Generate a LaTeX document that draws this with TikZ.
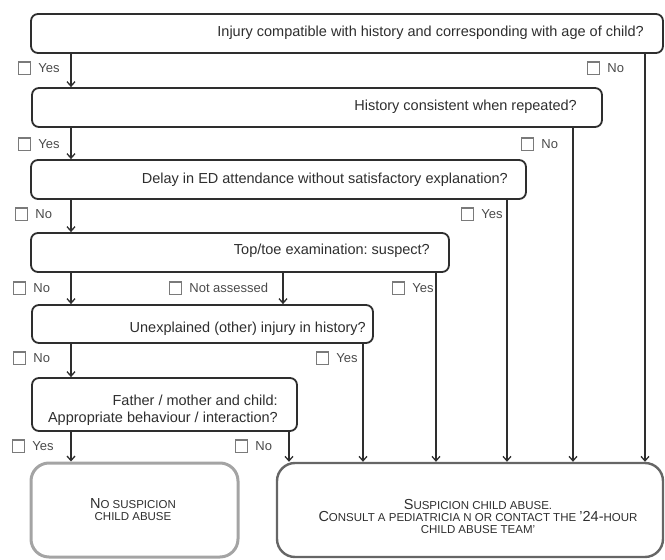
\documentclass[tikz,border=0pt]{standalone}
\usepackage{fontspec}
\setmainfont{Liberation Sans}
\usetikzlibrary{arrows.meta,fit}
\definecolor{ink}{HTML}{2E2E2E}
\definecolor{lblgray}{HTML}{4A4A4A}
\definecolor{cbgray}{HTML}{7A7A7A}
\definecolor{softgray}{HTML}{A4A4A4}
\definecolor{midgray}{HTML}{666666}
\frenchspacing
\tikzset{>={Straight Barb[length=4.5pt,width=8pt]}}
\tikzset{
  qbox/.style={draw=ink, line width=1.8pt, rounded corners=7pt, inner sep=0pt},
  qtext/.style={text=ink, font=\fontsize{14.5}{17}\selectfont, anchor=east, inner sep=0pt, align=right},
  endbox/.style={rounded corners=18pt, inner sep=0pt},
  endtext/.style={text=ink, align=center, inner sep=0pt},
  opt/.style={text=lblgray, font=\fontsize{13}{15}\selectfont, anchor=west, inner sep=0pt},
  flow/.style={->, draw=ink, line width=1.3pt}
}
\newcommand{\cb}{\raisebox{-1.5pt}{\fboxsep=0pt\fboxrule=1.1pt\fcolorbox{cbgray}{white}{\rule{0pt}{11pt}\rule{11pt}{0pt}}}\hspace{7pt}}
\newcommand{\sct}[2]{{\fontsize{14.5}{17}\selectfont #1}{\fontsize{11.5}{17}\selectfont #2}}

\begin{document}
\begin{tikzpicture}[x=1pt, y=-1pt]
    \useasboundingbox (0,0) rectangle (665,560);
    % questions
    \node[qbox, fit={(31,14) (663,53)}] (q1) {};
    \node[qtext] (q1t) at (644,33) {Injury compatible with history and corresponding with age of child?};
    \node[qbox, fit={(32,88) (602,127)}] (q2) {};
    \node[qtext] (q2t) at (577,107) {History consistent when repeated?};
    \node[qbox, fit={(31,160) (526,199)}] (q3) {};
    \node[qtext] (q3t) at (508,180) {Delay in ED attendance without satisfactory explanation?};
    \node[qbox, fit={(31,233) (449,272)}] (q4) {};
    \node[qtext] (q4t) at (430,251) {Top/toe examination: suspect?};
    \node[qbox, fit={(32,305) (373,343)}] (q5) {};
    \node[qtext] (q5t) at (366,329) {Unexplained (other) injury in history?};
    \node[qbox, fit={(32,378) (297,431)}] (q6) {};
    \node[qtext] (q6t) at (278,410.5) {Father / mother and child:\\Appropriate behaviour / interaction?};
    % outcomes
    \node[endbox, draw=softgray, line width=3pt, fit={(31,463) (238,557)}] (nosus) {};
    \node[endtext] (nosust) at (133,509.5) {\sct{N}{O SUSPICION}\\\sct{}{CHILD ABUSE}};
    \node[endbox, draw=midgray, line width=2.4pt, fit={(277,463) (663,557)}] (sus) {};
    \node[endtext] (sust) at (478,516.5) {\sct{S}{USPICION CHILD ABUSE.}\\
        \sct{C}{ONSULT A PEDIATRICIA N OR CONTACT THE }\sct{'24-}{HOUR}\\
        \sct{}{CHILD ABUSE TEAM'}};
    % answers
    \node[opt] (a1y) at (18,68) {\cb Yes};
    \node[opt] (a1n) at (587,68) {\cb No};
    \node[opt] (a2y) at (18,144) {\cb Yes};
    \node[opt] (a2n) at (521,144) {\cb No};
    \node[opt] (a3n) at (15,214) {\cb No};
    \node[opt] (a3y) at (461,214) {\cb Yes};
    \node[opt] (a4n) at (13,288) {\cb No};
    \node[opt] (a4a) at (169,288) {\cb Not assessed};
    \node[opt] (a4y) at (392,288) {\cb Yes};
    \node[opt] (a5n) at (13,358) {\cb No};
    \node[opt] (a5y) at (316,358) {\cb Yes};
    \node[opt] (a6y) at (12,446) {\cb Yes};
    \node[opt] (a6n) at (235,446) {\cb No};
    % connectors
    \coordinate (sp) at (71,0);
    \coordinate (na) at (283,0);
    \coordinate (n1) at (645,0);
    \coordinate (n2) at (573,0);
    \coordinate (y3) at (507,0);
    \coordinate (y4) at (436,0);
    \coordinate (y5) at (363,0);
    \coordinate (n6) at (289,0);
    \foreach \a/\b in {q1/q2, q2/q3, q3/q4, q4/q5, q5/q6, q6/nosus}
        \draw[flow] (\a.south -| sp) -- (\b.north -| sp);
    \draw[flow] (q4.south -| na) -- (q5.north -| na);
    \foreach \q/\c in {q1/n1, q2/n2, q3/y3, q4/y4, q5/y5, q6/n6}
        \draw[flow] (\q.south -| \c) -- (sus.north -| \c);
\end{tikzpicture}
\end{document}
